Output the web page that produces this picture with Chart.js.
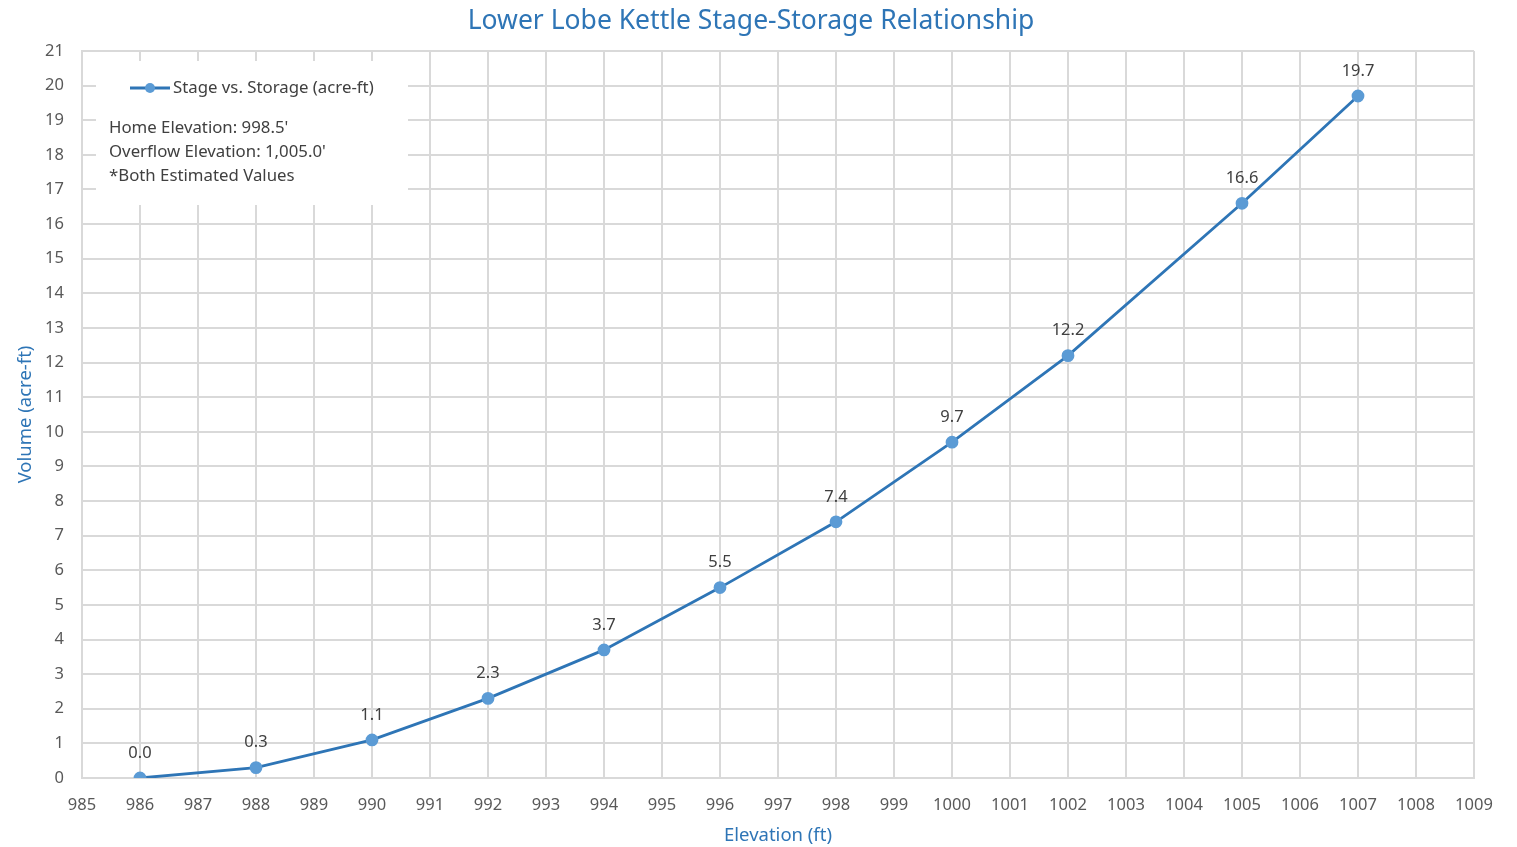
<!DOCTYPE html>
<html>
<head>
<meta charset="utf-8">
<script src="https://cdn.jsdelivr.net/npm/chart.js@4.4.1/dist/chart.umd.min.js"></script>
<style>
  html, body { margin: 0; padding: 0; background: #ffffff; }
  #wrap { width: 1517px; height: 847px; }
</style>
</head>
<body>
<div id="wrap"><canvas id="c" width="1517" height="847"></canvas></div>
<script>
// Stage-storage survey points
const elevations = [986, 988, 990, 992, 994, 996, 998, 1000, 1002, 1005, 1007];
const volumes = [0.0, 0.3, 1.1, 2.3, 3.7, 5.5, 7.4, 9.7, 12.2, 16.6, 19.7];
const seriesLabel = 'Stage vs. Storage (acre-ft)';
const noteLines = ["Home Elevation: 998.5'", "Overflow Elevation: 1,005.0'", '*Both Estimated Values'];
const chartTitle = 'Lower Lobe Kettle Stage-Storage Relationship';
const xAxisTitle = 'Elevation (ft)';
const yAxisTitle = 'Volume (acre-ft)';

const FONT = "'Noto Sans', 'Open Sans', sans-serif";
const LINE = '#2e75b6';
const POINT = '#5b9bd5';
const TEXT = '#404040';
const BLUE_TITLE = '#2e75b6';

// Title drawn centered above the plot area
const titlePlugin = {
  id: 'topTitle',
  afterDraw(chart) {
    const ctx = chart.ctx;
    ctx.save();
    ctx.font = '26.5px ' + FONT;
    ctx.fillStyle = BLUE_TITLE;
    ctx.textAlign = 'center';
    ctx.textBaseline = 'middle';
    ctx.fillText(chartTitle, 751, 21);
    ctx.restore();
  }
};

// Legend box with notes, sitting inside the plot area over the grid
const legendBoxPlugin = {
  id: 'legendBox',
  beforeDatasetsDraw(chart) {
    const ctx = chart.ctx;
    const ds = chart.data.datasets[0];
    ctx.save();
    ctx.fillStyle = '#ffffff';
    ctx.fillRect(96, 61, 312, 144);
    // series swatch
    ctx.strokeStyle = ds.borderColor;
    ctx.lineWidth = 3;
    ctx.beginPath();
    ctx.moveTo(130, 88);
    ctx.lineTo(170, 88);
    ctx.stroke();
    ctx.fillStyle = ds.pointBackgroundColor;
    ctx.beginPath();
    ctx.arc(150, 88, 5, 0, Math.PI * 2);
    ctx.fill();
    ctx.font = '16.8px ' + FONT;
    ctx.fillStyle = TEXT;
    ctx.textAlign = 'left';
    ctx.textBaseline = 'middle';
    ctx.fillText(ds.label, 173, 88);
    noteLines.forEach((t, i) => ctx.fillText(t, 109, 128 + i * 24));
    ctx.restore();
  }
};

// Value labels above each point
const valueLabelPlugin = {
  id: 'valueLabels',
  afterDatasetsDraw(chart) {
    const ctx = chart.ctx;
    const meta = chart.getDatasetMeta(0);
    ctx.save();
    ctx.font = '16.5px ' + FONT;
    ctx.fillStyle = TEXT;
    ctx.textAlign = 'center';
    ctx.textBaseline = 'middle';
    meta.data.forEach((pt, i) => {
      ctx.fillText(volumes[i].toFixed(1), pt.x, pt.y - 25);
    });
    ctx.restore();
  }
};

new Chart(document.getElementById('c'), {
  type: 'line',
  data: {
    datasets: [{
      label: seriesLabel,
      data: elevations.map((x, i) => ({ x: x, y: volumes[i] })),
      borderColor: LINE,
      borderWidth: 2.8,
      pointBackgroundColor: POINT,
      pointBorderColor: POINT,
      pointRadius: 5,
      pointHoverRadius: 5,
      tension: 0,
      fill: false
    }]
  },
  options: {
    responsive: false,
    animation: false,
    layout: { padding: { top: 51, right: 43, left: 0, bottom: 0 } },
    plugins: {
      legend: { display: false },
      title: { display: false },
      tooltip: { enabled: false }
    },
    scales: {
      x: {
        type: 'linear',
        min: 985,
        max: 1009,
        grid: { color: '#d9d9d9', lineWidth: 2, drawTicks: false },
        border: { color: '#d9d9d9', width: 2 },
        ticks: {
          stepSize: 1,
          padding: 17,
          color: '#595959',
          font: { family: FONT, size: 16.5 },
          maxRotation: 0,
          autoSkip: false,
          callback: v => String(v)
        },
        title: {
          display: true,
          text: xAxisTitle,
          color: BLUE_TITLE,
          font: { family: FONT, size: 18.5 },
          padding: { top: 11, bottom: 0 }
        },
        afterFit(scale) { scale.height = 69; }
      },
      y: {
        min: 0,
        max: 21,
        grid: { color: '#d9d9d9', lineWidth: 2, drawTicks: false },
        border: { color: '#d9d9d9', width: 2 },
        ticks: {
          stepSize: 1,
          padding: 18,
          color: '#595959',
          font: { family: FONT, size: 16.5 },
          autoSkip: false
        },
        title: {
          display: true,
          text: yAxisTitle,
          color: BLUE_TITLE,
          font: { family: FONT, size: 18.5 },
          padding: { top: 15, bottom: 0 }
        },
        afterFit(scale) { scale.width = 82; }
      }
    }
  },
  plugins: [titlePlugin, legendBoxPlugin, valueLabelPlugin]
});
</script>
</body>
</html>
